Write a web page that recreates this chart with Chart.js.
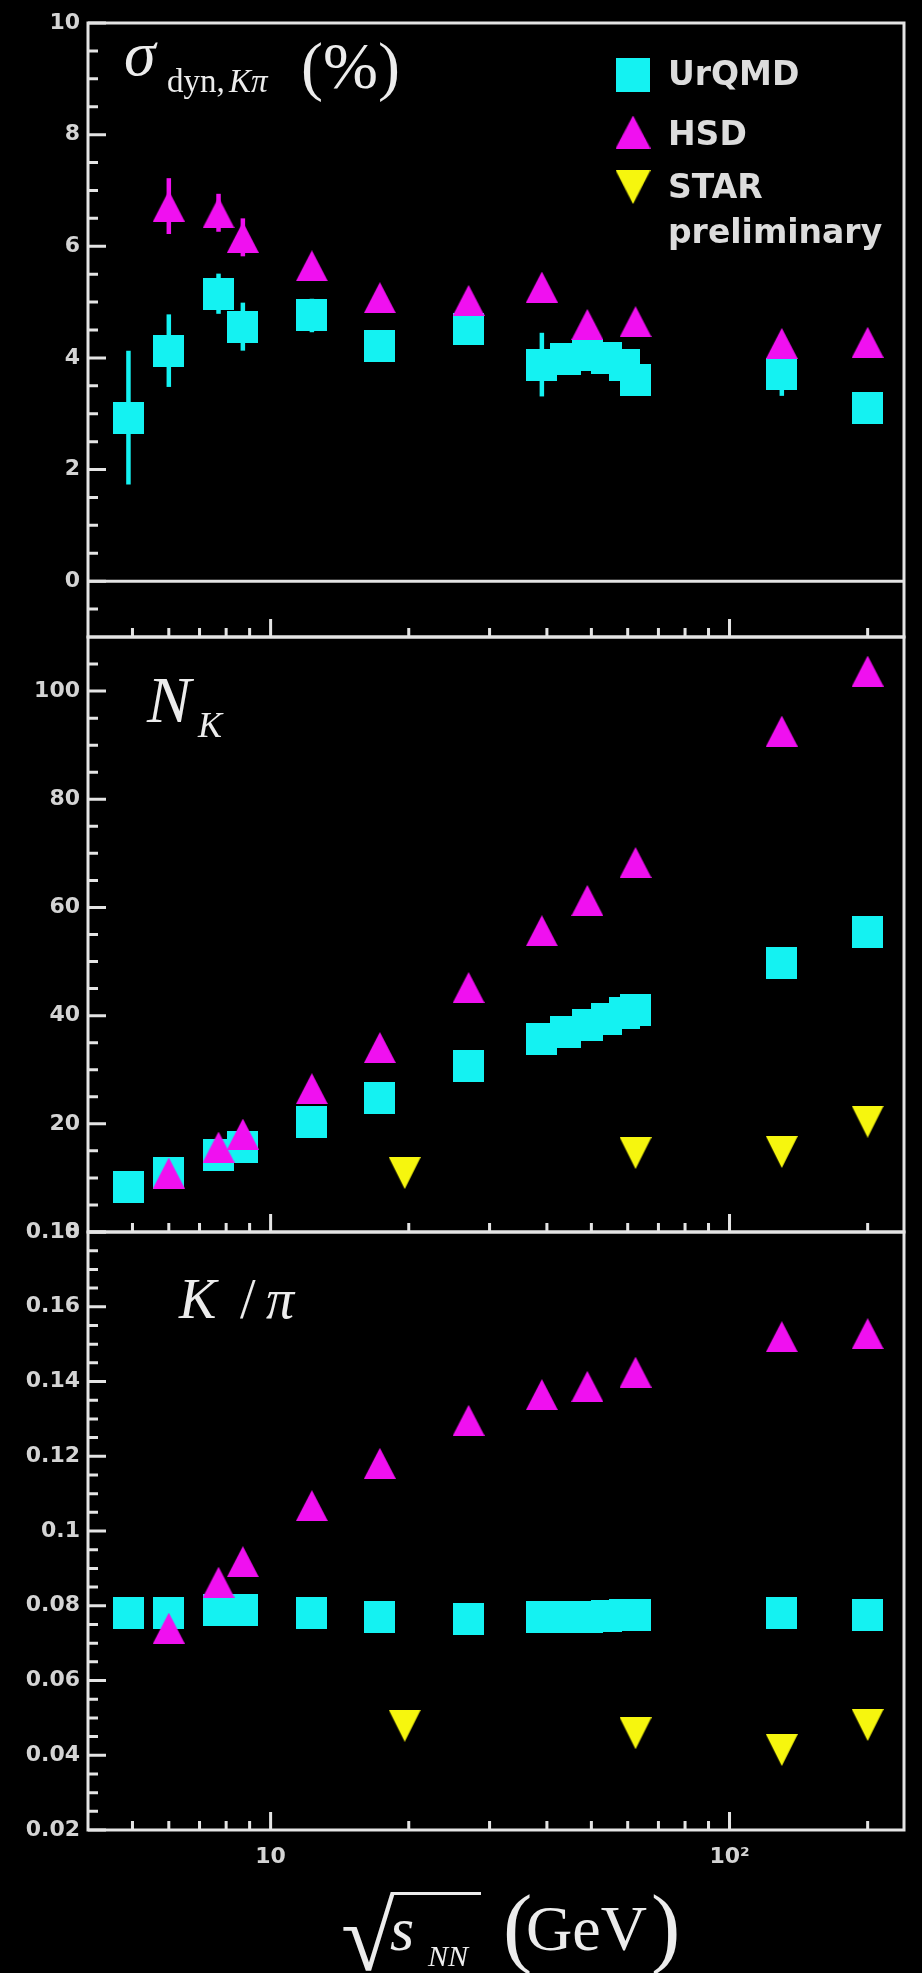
<!DOCTYPE html>
<html>
<head>
<meta charset="utf-8">
<title>sigma_dyn, N_K and K/pi vs beam energy</title>
<script src="https://cdn.jsdelivr.net/npm/chart.js@4.4.0/dist/chart.umd.min.js"></script>
<style>
  html, body { margin: 0; padding: 0; background: #000; }
  body { width: 922px; height: 1973px; position: relative; overflow: hidden; }
  .panel { position: absolute; left: 0; width: 922px; }
</style>
</head>
<body>
<div class="panel" style="top:0;height:660px"><canvas id="sigmaChart"></canvas></div>
<div class="panel" style="top:615px;height:640px"><canvas id="kaonChart"></canvas></div>
<div class="panel" style="top:1210px;height:763px"><canvas id="ratioChart"></canvas></div>
<script>
// beam energy sqrt(s_NN) in GeV
const urqmdEnergy = [4.9, 6.0, 7.7, 8.7, 12.3, 17.3, 27, 39, 44, 49, 54, 59, 62.4, 130, 200];
const hsdEnergy = [6.0, 7.7, 8.7, 12.3, 17.3, 27, 39, 49, 62.4, 130, 200];
const starEnergy = [19.6, 62.4, 130, 200];

// top panel: sigma_dyn,K pi (%)
const urqmdSigma = [2.93, 4.13, 5.15, 4.56, 4.76, 4.22, 4.52, 3.88, 3.98, 4.05, 4.0, 3.87, 3.6, 3.72, 3.1];
const urqmdSigmaErr = [1.2, 0.65, 0.36, 0.43, 0.3, 0.1, 0.1, 0.57, 0.1, 0.1, 0.1, 0.1, 0.1, 0.4, 0.1];
const hsdSigma = [6.72, 6.6, 6.16, 5.65, 5.08, 5.03, 5.27, 4.6, 4.65, 4.26, 4.28];
const hsdSigmaErr = [0.5, 0.34, 0.34, 0, 0, 0, 0, 0, 0, 0, 0];

// middle panel: N_K
const urqmdKaons = [8.3, 10.9, 14.3, 15.7, 20.4, 24.8, 30.6, 35.6, 37.0, 38.3, 39.3, 40.4, 41.0, 49.8, 55.4];
const hsdKaons = [10.9, 15.7, 18.1, 26.5, 34.1, 45.2, 55.7, 61.3, 68.3, 92.6, 103.7];
const starKaons = [10.9, 14.6, 14.8, 20.4];

// bottom panel: K / pi
const urqmdRatio = [0.078, 0.078, 0.0788, 0.0788, 0.078, 0.077, 0.0765, 0.077, 0.077, 0.077, 0.0772, 0.0774, 0.0774, 0.078, 0.0776];
const hsdRatio = [0.074, 0.0863, 0.0918, 0.1068, 0.1181, 0.1296, 0.1365, 0.1387, 0.1425, 0.152, 0.1528];
const starRatio = [0.0479, 0.0459, 0.0414, 0.0481];

// axis ticks
const energyMajorTicks = [10, 100];
const energyMinorTicks = [5, 6, 7, 8, 9, 20, 30, 40, 50, 60, 70, 80, 90, 200];
const sigmaTicks = [0, 2, 4, 6, 8, 10];
const kaonTicks = [0, 20, 40, 60, 80, 100];
const ratioTicks = [0.02, 0.04, 0.06, 0.08, 0.1, 0.12, 0.14, 0.16, 0.18];

const axisColor = '#e4e4e4';
const labelColor = '#d4d4d4';
const textColor = '#ececec';
const cyan = '#14f2f2';
const magenta = '#f010f0';
const yellow = '#f6f60e';
const serif = '"Liberation Serif", "Times New Roman", serif';
const tickFont = { family: '"DejaVu Sans", sans-serif', weight: 'bold', size: 22 };

// ROOT-like filled markers, drawn as small canvases
function makeMarker(shape, color, w, h) {
    const c = document.createElement('canvas');
    c.width = w; c.height = h;
    const g = c.getContext('2d');
    g.fillStyle = color;
    g.beginPath();
    if (shape === 'square') {
        g.rect(0, 0, w, h);
    } else if (shape === 'up') {
        g.moveTo(w / 2, 0); g.lineTo(w, h); g.lineTo(0, h);
    } else {
        g.moveTo(0, 0); g.lineTo(w, 0); g.lineTo(w / 2, h);
    }
    g.closePath();
    g.fill();
    return c;
}
const squareMark = makeMarker('square', cyan, 31, 32);
const upMark = makeMarker('up', magenta, 32, 31);
const downMark = makeMarker('down', yellow, 32, 32);

const points = (xs, ys) => xs.map((x, i) => ({ x: x, y: ys[i] }));

function series(label, xs, ys, mark, color, order, errs) {
    return {
        label: label,
        data: points(xs, ys),
        yErr: errs,
        pointStyle: mark,
        pointRadius: 16,
        backgroundColor: color,
        borderColor: color,
        showLine: false,
        order: order,
        clip: false
    };
}

// vertical error bars, drawn under the markers
const errorBars = {
    id: 'errorBars',
    beforeDatasetsDraw(chart) {
        const { ctx, scales: { x, y } } = chart;
        chart.data.datasets.forEach(ds => {
            if (!ds.yErr) return;
            ctx.save();
            ctx.strokeStyle = ds.borderColor;
            ctx.lineWidth = 4.5;
            ds.data.forEach((p, i) => {
                const e = ds.yErr[i];
                if (!e) return;
                const px = x.getPixelForValue(p.x);
                ctx.beginPath();
                ctx.moveTo(px, y.getPixelForValue(p.y - e));
                ctx.lineTo(px, y.getPixelForValue(p.y + e));
                ctx.stroke();
            });
            ctx.restore();
        });
    }
};

// box around the pad plus inward pointing tick marks
function framePlugin(majors, minorStep, zeroLine, drawText) {
    return {
        id: 'frame',
        afterDraw(chart) {
            const { ctx, chartArea: a, scales: { x, y } } = chart;
            ctx.save();
            ctx.strokeStyle = axisColor;
            ctx.lineWidth = 3;
            ctx.beginPath();
            energyMajorTicks.forEach(v => {
                const px = x.getPixelForValue(v);
                ctx.moveTo(px, a.bottom); ctx.lineTo(px, a.bottom - 18);
            });
            energyMinorTicks.forEach(v => {
                const px = x.getPixelForValue(v);
                ctx.moveTo(px, a.bottom); ctx.lineTo(px, a.bottom - 9);
            });
            majors.forEach(v => {
                const py = y.getPixelForValue(v);
                ctx.moveTo(a.left, py); ctx.lineTo(a.left + 18, py);
            });
            const n = Math.round((y.max - y.min) / minorStep);
            for (let i = 1; i < n; i++) {
                const py = y.getPixelForValue(y.min + i * minorStep);
                ctx.moveTo(a.left, py); ctx.lineTo(a.left + 10, py);
            }
            ctx.stroke();
            if (zeroLine) {
                const py = y.getPixelForValue(0);
                ctx.beginPath();
                ctx.moveTo(a.left, py); ctx.lineTo(a.right, py);
                ctx.stroke();
            }
            ctx.strokeRect(a.left, a.top, a.right - a.left, a.bottom - a.top);
            ctx.fillStyle = textColor;
            ctx.textAlign = 'left';
            ctx.textBaseline = 'alphabetic';
            drawText(ctx, a, chart);
            ctx.restore();
        }
    };
}

function panelOptions(yMin, yMax, yTicks, showX, padTop, padBottom, tickLabel) {
    return {
        responsive: true,
        maintainAspectRatio: false,
        animation: false,
        events: [],
        layout: { padding: { top: padTop, bottom: padBottom, left: 0, right: 18 } },
        plugins: { legend: { display: false }, tooltip: { enabled: false } },
        scales: {
            x: {
                type: 'logarithmic',
                min: 4, max: 240,
                display: showX,
                afterBuildTicks: s => { s.ticks = energyMajorTicks.map(v => ({ value: v })); },
                afterFit: s => { s.height = showX ? 143 : 0; },
                grid: { display: false, drawTicks: false },
                border: { display: false },
                ticks: {
                    color: labelColor, font: tickFont, padding: 14,
                    maxRotation: 0, autoSkip: false,
                    callback: v => v === 100 ? '10\u00B2' : String(v)
                }
            },
            y: {
                min: yMin, max: yMax,
                afterBuildTicks: s => { s.ticks = yTicks.map(v => ({ value: v })); },
                afterFit: s => { s.width = 88; },
                grid: { display: false, drawTicks: false },
                border: { display: false },
                ticks: { color: labelColor, font: tickFont, padding: 8, callback: tickLabel }
            }
        }
    };
}

// Top panel: sigma_dyn
new Chart(document.getElementById('sigmaChart'), {
    type: 'scatter',
    data: {
        datasets: [
            series('HSD', hsdEnergy, hsdSigma, upMark, magenta, 0, hsdSigmaErr),
            series('UrQMD', urqmdEnergy, urqmdSigma, squareMark, cyan, 1, urqmdSigmaErr)
        ]
    },
    options: panelOptions(-1, 10, sigmaTicks, false, 23, 23, v => String(v)),
    plugins: [errorBars, framePlugin(sigmaTicks, 0.5, true, (ctx) => {
        ctx.font = 'italic 64px ' + serif;
        ctx.fillText('\u03C3', 124, 75);
        ctx.font = '33px ' + serif;
        ctx.fillText('dyn,', 167, 92);
        ctx.font = 'italic 33px ' + serif;
        ctx.fillText('K\u03C0', 229, 92);
        ctx.font = '66px ' + serif;
        ctx.fillText('(%)', 301, 88);

        // legend
        const legend = [
            { mark: squareMark, text: 'UrQMD', cy: 75, base: 85 },
            { mark: upMark, text: 'HSD', cy: 132, base: 145 },
            { mark: downMark, text: 'STAR', cy: 187, base: 198 }
        ];
        ctx.font = 'bold 33px "DejaVu Sans", sans-serif';
        ctx.fillStyle = '#dcdcdc';
        legend.forEach(l => {
            const w = l.mark.width + 3, h = l.mark.height + 2;
            ctx.drawImage(l.mark, 633 - w / 2, l.cy - h / 2, w, h);
            ctx.fillText(l.text, 668, l.base);
        });
        ctx.fillText('preliminary', 668, 243);
    })]
});

// Middle panel: N_K
new Chart(document.getElementById('kaonChart'), {
    type: 'scatter',
    data: {
        datasets: [
            series('HSD', hsdEnergy, hsdKaons, upMark, magenta, 0),
            series('UrQMD', urqmdEnergy, urqmdKaons, squareMark, cyan, 1),
            series('STAR preliminary', starEnergy, starKaons, downMark, yellow, 2)
        ]
    },
    options: panelOptions(0, 110, kaonTicks, false, 22, 23, v => String(v)),
    plugins: [errorBars, framePlugin(kaonTicks, 5, false, (ctx, a) => {
        ctx.font = 'italic 66px ' + serif;
        ctx.fillText('N', 147, a.top + 85);
        ctx.font = 'italic 36px ' + serif;
        ctx.fillText('K', 198, a.top + 100);
    })]
});

// Bottom panel: K / pi, with the energy axis
new Chart(document.getElementById('ratioChart'), {
    type: 'scatter',
    data: {
        datasets: [
            series('HSD', hsdEnergy, hsdRatio, upMark, magenta, 0),
            series('UrQMD', urqmdEnergy, urqmdRatio, squareMark, cyan, 1),
            series('STAR preliminary', starEnergy, starRatio, downMark, yellow, 2)
        ]
    },
    options: panelOptions(0.02, 0.18, ratioTicks, true, 22, 0, v => String(+v.toFixed(3))),
    plugins: [errorBars, framePlugin(ratioTicks, 0.005, false, (ctx, a) => {
        const kb = a.top + 86;
        ctx.font = 'italic 56px ' + serif;
        ctx.fillText('K', 179, kb);
        ctx.fillText('\u03C0', 266, kb);
        ctx.font = '56px ' + serif;
        ctx.fillText('/', 240, kb);

        // sqrt(s_NN) (GeV)
        const base = a.bottom + 120;
        ctx.font = 'italic 62px ' + serif;
        ctx.fillText('s', 390, base);
        ctx.font = 'italic 30px ' + serif;
        ctx.fillText('NN', 428, base + 16);

        ctx.font = '100px ' + serif;
        let m = ctx.measureText('\u221A');
        const size = 100 * 80 / (m.actualBoundingBoxAscent + m.actualBoundingBoxDescent);
        ctx.font = size + 'px ' + serif;
        m = ctx.measureText('\u221A');
        const top = a.bottom + 62;
        const rx = 343 + m.actualBoundingBoxLeft;
        ctx.fillText('\u221A', rx, top + m.actualBoundingBoxAscent);
        ctx.strokeStyle = textColor;
        ctx.lineWidth = 3;
        ctx.beginPath();
        ctx.moveTo(rx + m.actualBoundingBoxRight - 2, top + 1.5);
        ctx.lineTo(481, top + 1.5);
        ctx.stroke();

        ctx.font = '88px ' + serif;
        ctx.fillText('(', 503, base + 6);
        ctx.fillText(')', 651, base + 6);
        ctx.font = '64px ' + serif;
        ctx.fillText('GeV', 526, base);
    })]
});
</script>
</body>
</html>
